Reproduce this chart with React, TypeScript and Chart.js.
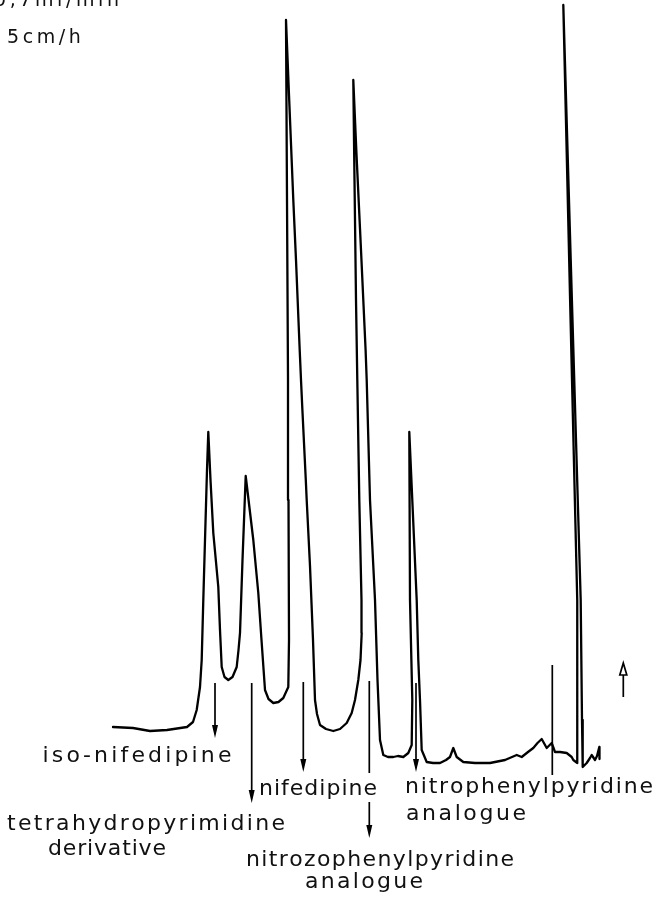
import { useEffect, useRef } from "react";
import { Chart, registerables } from "chart.js";

Chart.register(...registerables);

// Chromatogram trace (retention position along chart, detector response)
const retentionTime = [
  113, 133, 150, 167, 187, 193, 196.7, 200, 201.7, 203.3,
  205, 207, 208.3, 210.5, 213.3, 216, 218.3, 220, 221.7, 224.5,
  228.3, 232.5, 236.7, 238.5, 240, 242.5, 245.7, 249.5, 253.3, 258.3,
  261.5, 265, 268.5, 273.3, 278.5, 283.3, 288.3, 289, 288.5, 288,
  287, 286, 288.8, 293.3, 296, 299.7, 301, 302.4, 305.8, 306.7,
  310, 313, 315, 317, 320, 326, 333.3, 340, 346.7, 351.7,
  355, 358.3, 360.5, 361.7, 361.5, 359.3, 357.3, 356, 354.5, 353.3,
  356.3, 361, 365.6, 366.7, 370, 375, 377.5, 380, 383.3, 388,
  393.3, 398, 403.3, 408.3, 411.7, 412.3, 410, 409.3, 416.7, 418.3,
  420, 421.7, 426.7, 433, 440, 446, 450, 453.3, 456.7, 463.3,
  475, 490, 505, 516.7, 521.7, 528, 533.3, 537.5, 541.7, 546.7,
  551.7, 555, 560, 566.7, 571.7, 573.3, 577.3, 577.5, 577, 570.1,
  563.3, 571.9, 580.7, 582, 582.7, 586.7, 590, 591.7, 595, 597,
  599.3, 599.5,
];
const detectorSignal = [
  170, 169, 166, 167, 170, 175, 187, 210, 237, 297,
  357, 427, 465, 417, 364, 335, 310, 267, 230, 220,
  217, 220, 230, 247, 264, 337, 421, 389, 357, 304,
  257, 207, 198, 194, 195, 199, 210, 257, 397, 517,
  697, 877, 807, 697, 637, 547, 517, 487, 417, 397,
  331, 257, 197, 183, 172, 168, 166, 168, 174, 184,
  197, 217, 237, 264, 297, 397, 517, 597, 717, 817,
  747, 647, 547, 517, 397, 297, 217, 157, 142, 140,
  140, 141, 140, 144, 152, 197, 297, 465, 297, 237,
  197, 147, 135, 134, 134, 137, 140, 149, 140, 135,
  134, 134, 137, 142, 140, 145, 149, 154, 158, 149,
  154, 145, 145, 144, 140, 137, 134, 197, 297, 597,
  892, 597, 297, 177, 130, 134, 139, 142, 137, 141,
  150, 138,
];

// Peak-identification arrows (pointing down)
const arrowTime = [215, 251.7, 303.3, 369.3, 416];
const arrowFrom = [214, 214, 215, 95, 214];
const arrowTo = [159, 94, 125, 59, 125];

// Plain marker strokes
const markerTime = [369.3, 552.3];
const markerFrom = [216, 232];
const markerTo = [124, 122];

// Injection / direction arrow (pointing up)
const upArrowTime = [623.3];
const upArrowFrom = [200];
const upArrowTo = [234];

// Peak labels
const labelText = [
  "iso-nifedipine",
  "nifedipine",
  "nitrophenylpyridine",
  "analogue",
  "tetrahydropyrimidine",
  "derivative",
  "nitrozophenylpyridine",
  "analogue",
];
const labelTime = [137, 318, 529, 466, 146, 107, 380, 364];
const labelSignal = [135, 102, 104, 77, 67, 42, 31, 9];

// Conditions text at top-left
const headerText = ["0,7ml/min", "5cm/h"];
const headerTime = [-6, 7];
const headerSignal = [891, 854];

// Style: lettered widths (px) of each label, as in the stencil lettering
const labelSpanPx = [189, 118, 248, 120, 278, 118, 268, 118];

function drawSpaced(
  ctx: CanvasRenderingContext2D,
  text: string,
  x: number,
  y: number,
  spacing: number,
  align: "left" | "center",
  targetWidth?: number
) {
  const chars = Array.from(text);
  const widths = chars.map((c) => ctx.measureText(c).width);
  const glyphs = widths.reduce((a, b) => a + b, 0);
  let sp = spacing;
  if (targetWidth && chars.length > 1) {
    sp = Math.max(0.5, (targetWidth - glyphs) / (chars.length - 1));
  }
  const total = glyphs + sp * (chars.length - 1);
  let cx = align === "center" ? x - total / 2 : x;
  ctx.textAlign = "left";
  chars.forEach((c, i) => {
    ctx.fillText(c, cx, y);
    cx += widths[i] + sp;
  });
}

const annotationPlugin = {
  id: "chromAnnotations",
  afterDatasetsDraw(chart: any) {
    const ctx: CanvasRenderingContext2D = chart.ctx;
    const xs = chart.scales.x;
    const ys = chart.scales.y;
    ctx.save();
    ctx.strokeStyle = "#000";
    ctx.fillStyle = "#000";
    ctx.lineWidth = 1.7;
    ctx.lineCap = "butt";

    // down arrows
    arrowTime.forEach((t, i) => {
      const x = xs.getPixelForValue(t);
      const y0 = ys.getPixelForValue(arrowFrom[i]);
      const y1 = ys.getPixelForValue(arrowTo[i]);
      ctx.beginPath();
      ctx.moveTo(x, y0);
      ctx.lineTo(x, y1 - 8);
      ctx.stroke();
      ctx.beginPath();
      ctx.moveTo(x - 3, y1 - 13);
      ctx.lineTo(x + 3, y1 - 13);
      ctx.lineTo(x, y1);
      ctx.closePath();
      ctx.fill();
    });

    // plain markers
    markerTime.forEach((t, i) => {
      const x = xs.getPixelForValue(t);
      ctx.beginPath();
      ctx.moveTo(x, ys.getPixelForValue(markerFrom[i]));
      ctx.lineTo(x, ys.getPixelForValue(markerTo[i]));
      ctx.stroke();
    });

    // up arrow (open head)
    upArrowTime.forEach((t, i) => {
      const x = xs.getPixelForValue(t);
      const y0 = ys.getPixelForValue(upArrowFrom[i]);
      const y1 = ys.getPixelForValue(upArrowTo[i]);
      ctx.beginPath();
      ctx.moveTo(x, y0);
      ctx.lineTo(x, y1 + 12);
      ctx.stroke();
      ctx.beginPath();
      ctx.moveTo(x - 3.5, y1 + 12);
      ctx.lineTo(x + 3.5, y1 + 12);
      ctx.lineTo(x, y1);
      ctx.closePath();
      ctx.stroke();
    });

    // labels
    ctx.fillStyle = "#111";
    ctx.textBaseline = "alphabetic";
    ctx.font = '22px "DejaVu Sans"';
    labelText.forEach((txt, i) => {
      drawSpaced(
        ctx,
        txt,
        xs.getPixelForValue(labelTime[i]),
        ys.getPixelForValue(labelSignal[i]),
        1.8,
        "center",
        labelSpanPx[i]
      );
    });

    ctx.font = '19px "DejaVu Sans"';
    headerText.forEach((txt, i) => {
      drawSpaced(
        ctx,
        txt,
        xs.getPixelForValue(headerTime[i]),
        ys.getPixelForValue(headerSignal[i]),
        3.6,
        "left"
      );
    });
    ctx.restore();
  },
};

export default function App() {
  const canvasRef = useRef<HTMLCanvasElement | null>(null);

  useEffect(() => {
    document.body.style.margin = "0";
    const canvas = canvasRef.current;
    if (!canvas) return;
    const n = Math.min(retentionTime.length, detectorSignal.length);
    const points = [];
    for (let i = 0; i < n; i++) points.push({ x: retentionTime[i], y: detectorSignal[i] });

    const chart = new Chart(canvas, {
      type: "line",
      data: {
        datasets: [
          {
            label: "detector signal",
            data: points,
            borderColor: "#000",
            borderWidth: 2.3,
            pointRadius: 0,
            tension: 0,
            fill: false,
            borderJoinStyle: "round",
            borderCapStyle: "round",
          },
        ],
      },
      options: {
        responsive: false,
        maintainAspectRatio: false,
        devicePixelRatio: 1,
        animation: false,
        layout: { padding: 0 },
        plugins: {
          legend: { display: false },
          tooltip: { enabled: false },
        },
        scales: {
          x: { type: "linear", min: 0, max: 656, display: false },
          y: { type: "linear", min: 0, max: 897, display: false },
        },
      },
      plugins: [annotationPlugin],
    });
    return () => chart.destroy();
  }, []);

  return (
    <div style={{ width: 656, height: 897, background: "#fff" }}>
      <canvas ref={canvasRef} width={656} height={897} style={{ display: "block" }} />
    </div>
  );
}
